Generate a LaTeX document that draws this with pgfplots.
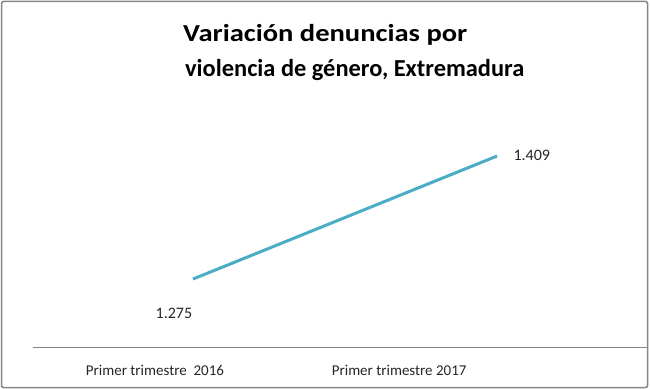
\documentclass[border=0pt]{standalone}
\usepackage{pgfplots}
\pgfplotsset{compat=1.18}
\usepackage{fontspec}
\setmainfont{Carlito}
\definecolor{linecol}{HTML}{4BACC6}
\definecolor{axcol}{HTML}{868686}
\begin{document}
\begin{tikzpicture}
\useasboundingbox (0,0) rectangle (650bp,389bp);
\draw[axcol, line width=1.5bp, rounded corners=2bp] (1.5bp,1.5bp) rectangle (647.5bp,387.5bp);
\node[font=\fontsize{24.4bp}{28bp}\selectfont\bfseries, anchor=base west, inner sep=0pt, xscale=1.17] at (183bp,347bp) {Variación denuncias por};
\node[font=\fontsize{24.4bp}{28bp}\selectfont\bfseries, anchor=base west, inner sep=0pt] at (185bp,312bp) {violencia de género, Extremadura};
\begin{axis}[
  at={(33bp,42bp)}, anchor=south west,
  scale only axis, width=614bp, height=247bp,
  xmin=-0.526, xmax=1.493, ymin=1201, ymax=1470,
  axis x line=bottom, axis y line=none,
  axis line style={-, draw=axcol, line width=0.9bp},
  xtick={-0.125,0.678}, xticklabels={Primer trimestre~~2016, Primer trimestre 2017},
  major tick length=0pt,
  ytick=\empty,
  xticklabel style={anchor=base, yshift=-28bp, font=\fontsize{15bp}{18bp}\selectfont, text=black!85},
  clip=false,
]
\addplot[linecol, line width=3bp] coordinates {(0,1275) (1,1409)};
\node[anchor=base, font=\fontsize{16bp}{19bp}\selectfont, text=black!85] at (axis cs:0,1275) [xshift=-19bp, yshift=-39bp] {1.275};
\node[anchor=west, font=\fontsize{16bp}{19bp}\selectfont, text=black!85] at (axis cs:1,1409) [xshift=13bp, yshift=1bp] {1.409};
\end{axis}
\end{tikzpicture}
\end{document}
